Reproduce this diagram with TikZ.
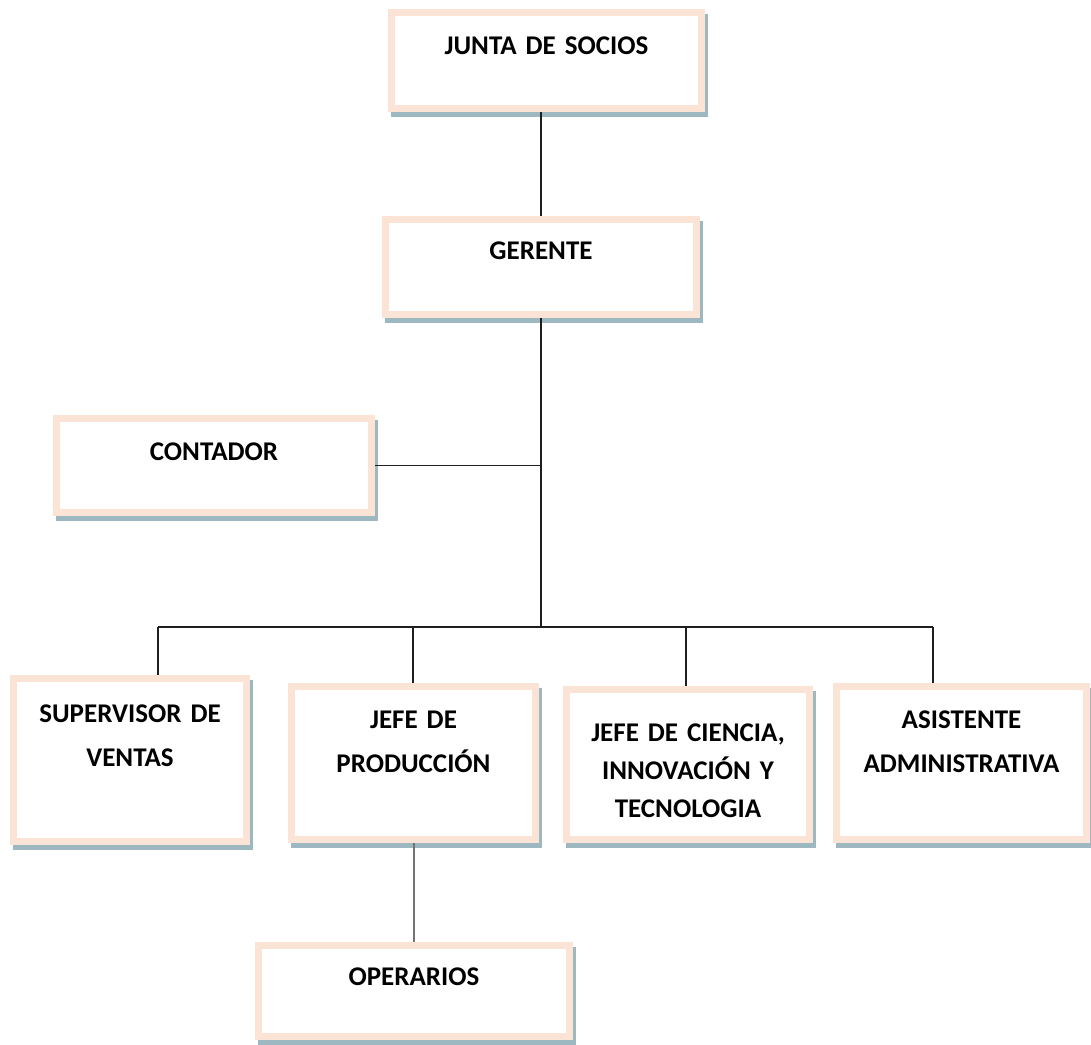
\documentclass[tikz,border=0pt]{standalone}
\usepackage{fontspec}
\setmainfont{Carlito}
\usepackage{tikz}
\definecolor{OrgPeach}{HTML}{FBE4D5}
\definecolor{OrgShadow}{HTML}{9EB8C1}
\definecolor{OrgLine}{HTML}{1E1E1E}

\begin{document}
\begin{tikzpicture}[
  x=1pt,y=-1pt,
  orgbox/.style={draw=OrgPeach,fill=white,line width=7pt,inner xsep=0pt,inner ysep=0pt,align=center,text height=42pt,font=\fontsize{27}{44}\selectfont\bfseries,
    preaction={fill=OrgShadow,draw=OrgShadow,transform canvas={xshift=3pt,yshift=-5pt}}},
  link/.style={draw=OrgLine,line width=1.5pt},
  sublink/.style={draw=black!55,line width=2pt}
]
\useasboundingbox (0,0) rectangle (1091,1044);
% cajas del organigrama
\node[orgbox,text width=310pt,text depth=54pt] (junta) at (546.5,60.5) {JUNTA DE SOCIOS};
\node[orgbox,text width=311pt,text height=40pt,text depth=55pt] (gerente) at (541,267) {GERENTE};
\node[orgbox,text width=315pt,text depth=52pt] (contador) at (214,465.5) {CONTADOR};
\node[orgbox,text width=233pt,text height=44pt,text depth=119pt] (supervisor) at (130,760) {SUPERVISOR DE\\VENTAS};
\node[orgbox,text width=244pt,text depth=111pt] (jefeprod) at (413.5,763) {JEFE DE\\PRODUCCIÓN};
\node[orgbox,text width=243pt,text height=52pt,text depth=98pt,font=\fontsize{27}{38}\selectfont\bfseries] (ciencia) at (688,764.5) {JEFE DE CIENCIA,\\INNOVACIÓN Y\\TECNOLOGIA};
\node[orgbox,text width=250pt,text depth=111pt] (asistente) at (961.5,763) {ASISTENTE\\ADMINISTRATIVA};
\node[orgbox,text width=311pt,text height=40pt,text depth=51pt] (operarios) at (414,991) {OPERARIOS};
% conectores
\coordinate (bus) at (541,627);
\draw[link] (junta.south -| gerente.north) -- (gerente.north);
\draw[link] (gerente.south) -- (bus);
\draw[link] (contador.east) -- (contador.east -| bus);
\foreach \x/\n in {158/supervisor,413/jefeprod,686/ciencia,933/asistente}{
  \coordinate (drop\n) at (\x,627);
  \draw[link] (drop\n) -- (drop\n |- \n.north);
}
\draw[link] (dropsupervisor) -- (dropasistente);
\draw[sublink] (jefeprod.south) -- (jefeprod.south |- operarios.north);
\end{tikzpicture}
\end{document}
